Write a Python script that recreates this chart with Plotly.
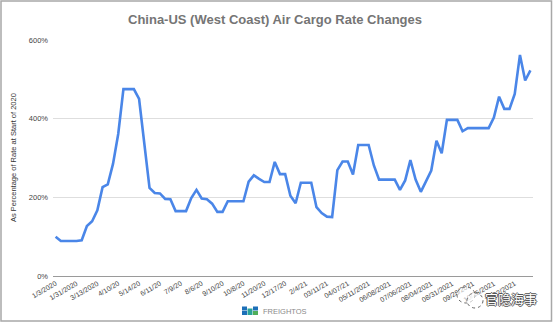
import plotly.graph_objects as go

# Weekly China-US (West Coast) air cargo rate index, % of rate at start of 2020
rates = [
    100, 89, 89, 89, 89, 91, 127, 139, 167, 226,
    233, 285, 361, 475, 475, 475, 450, 344, 224, 211,
    210, 196, 195, 165, 165, 165, 198, 219, 197, 195,
    184, 163, 163, 190, 190, 190, 190, 240, 256, 247,
    239, 239, 290, 259, 259, 204, 185, 237, 237, 237,
    175, 160, 151, 150, 269, 291, 291, 258, 333, 333,
    333, 281, 245, 245, 245, 245, 219, 243, 295, 245,
    214, 241, 268, 344, 312, 397, 397, 397, 368, 376,
    376, 376, 376, 376, 403, 456, 425, 425, 463, 562,
    497, 523,
]

# Date labels shown on every fourth observation
tick_labels = [
    "1/3/2020", "1/31/2020", "3/13/2020", "4/10/20", "5/14/20", "6/11/20",
    "7/9/20", "8/6/20", "9/10/20", "10/8/20", "11/20/20", "12/17/20",
    "2/4/21", "03/11/21", "04/07/21", "05/11/2021", "06/08/2021",
    "07/06/2021", "08/04/2021", "08/31/2021", "09/28/2021", "10/25/2021",
    "11/22/2021",
]
label_step = 4

y_ticks = [0, 200, 400, 600]
y_tick_text = ["0%", "200%", "400%", "600%"]

W, H = 553, 323
L, R, T, B = 53, 20, 40, 47
PW, PH = W - L - R, H - T - B


def px(x):
    return (x - L) / PW


def py(y):
    return (H - B - y) / PH


x_idx = list(range(len(rates)))

fig = go.Figure()
fig.add_trace(go.Scatter(
    x=x_idx, y=rates, mode="lines",
    line=dict(color="#4a86e8", width=2.6),
    hoverinfo="skip", showlegend=False,
))

shapes = [
    # outer frame
    dict(type="rect", xref="paper", yref="paper",
         x0=px(1), x1=px(551.5), y0=py(1), y1=py(321),
         line=dict(color="#a8a8a8", width=1.5), fillcolor="rgba(0,0,0,0)",
         layer="below"),
]

# FREIGHTOS mark: small block icon
icon_blocks = [
    (242, 306.5, 247, 310.5, "#1d6fb8"),
    (242, 311, 247, 315, "#1d6fb8"),
    (247.5, 308.5, 252.5, 315, "#2aa39a"),
    (253, 306.5, 258, 310.5, "#1d6fb8"),
    (253, 311, 258, 315, "#4fae5a"),
]
for x0, y0, x1, y1, c in icon_blocks:
    shapes.append(dict(type="rect", xref="paper", yref="paper",
                       x0=px(x0), x1=px(x1), y0=py(y0), y1=py(y1),
                       line=dict(width=0), fillcolor=c))

# watermark bubble icon
shapes.append(dict(type="circle", xref="paper", yref="paper",
                   x0=px(457), x1=px(475), y0=py(287), y1=py(303),
                   line=dict(color="#666", width=1, dash="dot"),
                   fillcolor="rgba(255,255,255,0.6)"))
shapes.append(dict(type="circle", xref="paper", yref="paper",
                   x0=px(467), x1=px(483), y0=py(293), y1=py(308),
                   line=dict(color="#666", width=1, dash="dot"),
                   fillcolor="rgba(255,255,255,0.6)"))

annotations = [
    dict(text="China-US (West Coast) Air Cargo Rate Changes",
         xref="paper", yref="paper", x=px(275), y=py(19),
         xanchor="center", yanchor="middle", showarrow=False,
         font=dict(family="Liberation Sans, Arial, sans-serif", size=13,
                   color="#757575", weight="bold")),
    dict(text="As Percentage of Rate at Start of 2020",
         xref="paper", yref="paper", x=px(13), y=py(158),
         xanchor="center", yanchor="middle", showarrow=False, textangle=-90,
         font=dict(family="Liberation Sans, Arial, sans-serif", size=7.5,
                   color="#333")),
    dict(text="FREIGHTOS",
         xref="paper", yref="paper", x=px(261), y=py(311),
         xanchor="left", yanchor="middle", showarrow=False,
         font=dict(family="Liberation Sans, Arial, sans-serif", size=7.5,
                   color="#8a8a8a")),
    dict(text="官隐海事",
         xref="paper", yref="paper", x=px(511), y=py(298),
         xanchor="center", yanchor="middle", showarrow=False,
         font=dict(family="Noto Sans CJK SC", size=13, color="#ffffff",
                   shadow="-1px 0 #555, 1px 0 #555, 0 -1px #555, 0 1px #555")),
]

fig.update_layout(
    width=W, height=H,
    margin=dict(l=L, r=R, t=T, b=B),
    paper_bgcolor="white", plot_bgcolor="white",
    font=dict(family="Liberation Sans, Arial, sans-serif", color="#444"),
    shapes=shapes, annotations=annotations,
    xaxis=dict(
        range=[-0.5, len(rates) - 0.5],
        tickvals=x_idx[::label_step][:len(tick_labels)],
        ticktext=tick_labels,
        tickangle=-30, tickfont=dict(size=7, color="#444"),
        showgrid=False, zeroline=False,
        showline=True, linecolor="#9a9a9a", linewidth=1,
        ticks="", fixedrange=True,
    ),
    yaxis=dict(
        range=[0, 600], tickvals=y_ticks, ticktext=y_tick_text,
        tickfont=dict(size=7.5, color="#444"),
        showgrid=True, gridcolor="#dedede", gridwidth=1,
        zeroline=False, showline=False, ticks="", ticklabelstandoff=4,
        fixedrange=True,
    ),
)

fig.write_html("out.html")
